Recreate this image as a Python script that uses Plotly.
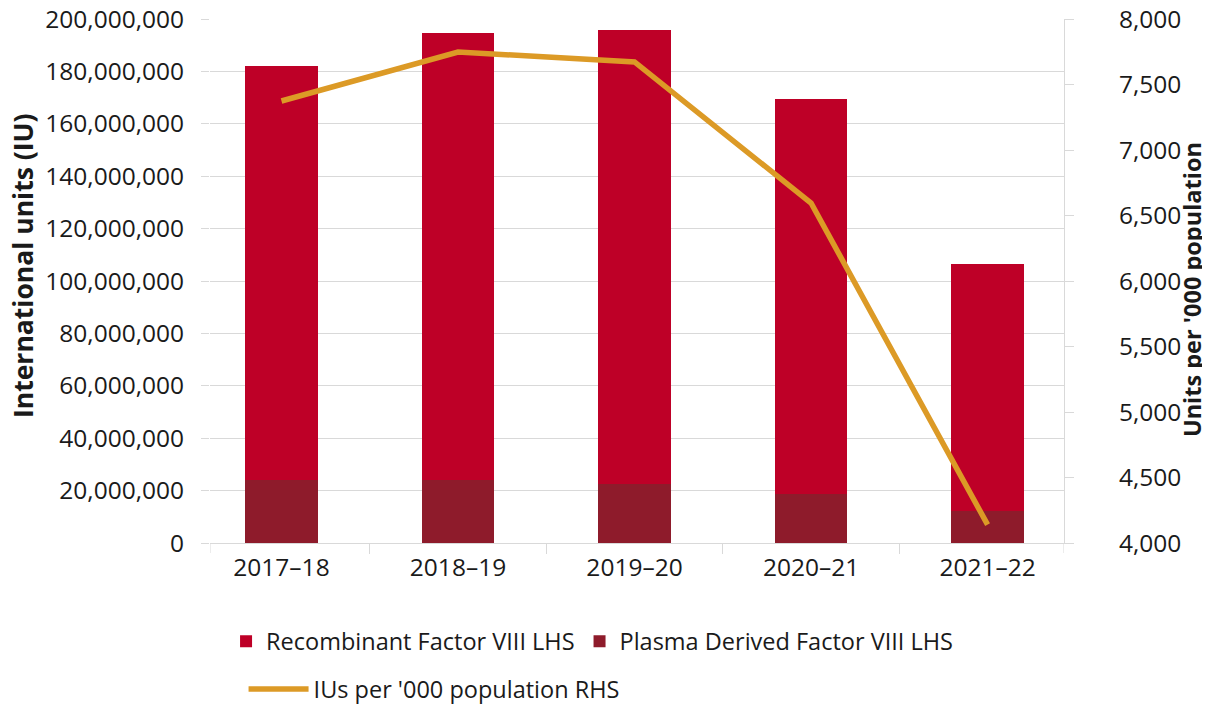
import plotly.graph_objects as go

categories = ["2017–18", "2018–19", "2019–20", "2020–21", "2021–22"]
recombinant = [158.0e6, 170.8e6, 173.5e6, 150.7e6, 94.4e6]
plasma = [24.2e6, 23.9e6, 22.4e6, 18.6e6, 12.2e6]
ius_per_000 = [7374, 7748, 7672, 6595, 4140]

FONT = "Open Sans"
GRID = "#D9D9D9"
TXT = "#1a1a1a"
TICK = 24.5

fig = go.Figure()
fig.add_trace(go.Bar(
    x=categories, y=plasma, name="Plasma Derived Factor VIII LHS",
    marker=dict(color="#8E1B2B", line=dict(width=0)), width=0.41,
    legend="legend", legendrank=2,
))
fig.add_trace(go.Bar(
    x=categories, y=recombinant, name="Recombinant Factor VIII LHS",
    marker=dict(color="#BE0027", line=dict(width=0)), width=0.41,
    legend="legend", legendrank=1,
))
fig.add_trace(go.Scatter(
    x=categories, y=ius_per_000, name="IUs per '000 population RHS",
    mode="lines", line=dict(color="#DC9A26", width=5.5),
    yaxis="y2", legend="legend2",
))

x_lo, x_hi = -0.405, 4.433

# page body has an 8px margin, so the figure is 8px smaller than the window
fig.update_layout(
    width=1202, height=698,
    margin=dict(l=202, r=146, t=11, b=163, autoexpand=False),
    paper_bgcolor="white", plot_bgcolor="white",
    barmode="stack",
    font=dict(family=FONT, size=TICK, color=TXT),
    xaxis=dict(
        type="category", range=[x_lo, x_hi],
        tickson="boundaries", ticks="outside", ticklen=10, tickcolor=GRID, tickwidth=1,
        showline=True, linecolor=GRID, linewidth=1, showgrid=False,
        ticklabelstandoff=3,
        tickfont=dict(family=FONT, size=TICK, color=TXT),
    ),
    yaxis=dict(
        range=[0, 200e6], dtick=20e6, tickformat=",",
        showgrid=True, gridcolor=GRID, gridwidth=1, zeroline=False,
        ticks="outside", ticklen=8, tickcolor=GRID,
        ticklabelstandoff=12, ticklabeloverflow="allow",
        tickfont=dict(family=FONT, size=TICK, color=TXT),
    ),
    yaxis2=dict(
        overlaying="y", side="right", range=[4000, 8000], dtick=500, tickformat=",",
        showgrid=False, zeroline=False, showline=True, linecolor=GRID, linewidth=1,
        ticks="outside", ticklen=9, tickcolor=GRID,
        ticklabelstandoff=40, ticklabeloverflow="allow",
        tickfont=dict(family=FONT, size=TICK, color=TXT),
    ),
    legend=dict(
        orientation="h", x=0.0188, y=-0.146, xanchor="left", yanchor="top",
        font=dict(family=FONT, size=23.5, color=TXT), traceorder="normal",
        itemwidth=30,
    ),
    legend2=dict(
        orientation="h", x=0.0393, y=-0.237, xanchor="left", yanchor="top",
        font=dict(family=FONT, size=23.5, color=TXT), itemwidth=60,
    ),
    showlegend=True,
    annotations=[
        dict(text="<b>International units (IU)</b>", textangle=-90,
             xref="paper", yref="paper", x=-0.219, y=0.5286,
             xanchor="center", yanchor="middle", showarrow=False,
             font=dict(family=FONT, size=26.5, color=TXT)),
        dict(text="<b>Units per '000 population</b>", textangle=-90,
             xref="paper", yref="paper", x=1.150, y=0.4828,
             xanchor="center", yanchor="middle", showarrow=False,
             font=dict(family=FONT, size=23.5, color=TXT)),
    ],
)

# end ticks of the category axis at both plot edges
for xv in (x_lo, x_hi):
    fig.add_shape(type="line", xref="x", yref="paper", x0=xv, x1=xv, y0=0, y1=-10/524,
                  line=dict(color=GRID, width=1))

fig.write_html("out.html")
